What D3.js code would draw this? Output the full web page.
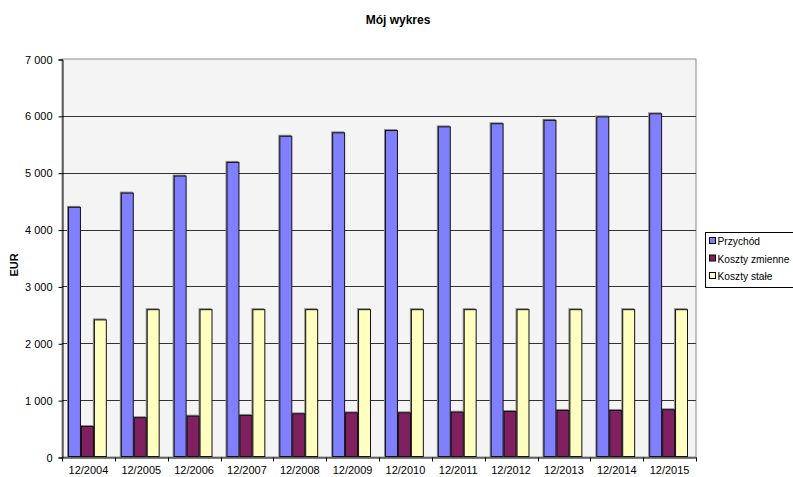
<!DOCTYPE html>
<html>
<head>
<meta charset="utf-8">
<script src="https://cdn.jsdelivr.net/npm/d3@7"></script>
<style>
  body { margin: 0; background: #fff; }
  svg { display: block; font-family: "Liberation Sans", Arial, sans-serif; }
</style>
</head>
<body>
<div class="chart"></div>
<script>
const categories = ["12/2004", "12/2005", "12/2006", "12/2007", "12/2008", "12/2009",
  "12/2010", "12/2011", "12/2012", "12/2013", "12/2014", "12/2015"];
const seriesNames = ["Przychód", "Koszty zmienne", "Koszty stałe"];
const przychod = [4400, 4650, 4950, 5190, 5650, 5710, 5750, 5815, 5870, 5930, 5990, 6045];
const kosztyZmienne = [545, 700, 727, 740, 768, 786, 786, 797, 809, 827, 827, 840];
const kosztyStale = [2420, 2600, 2600, 2600, 2600, 2600, 2600, 2600, 2600, 2600, 2600, 2600];
const yTicks = [0, 1000, 2000, 3000, 4000, 5000, 6000, 7000];
const colors = ["#8080ff", "#802060", "#ffffc0"];

const w = 793, h = 477;
const margin = {top: 59, bottom: 20, left: 62, right: 97};

const svg = d3.select(".chart").append("svg")
  .attr("width", w)
  .attr("height", h);

const x0 = d3.scaleBand()
  .domain(categories)
  .range([margin.left, w - margin.right])
  .paddingInner(0).paddingOuter(0);

const x1 = d3.scaleBand()
  .domain(seriesNames)
  .range([6, x0.bandwidth() - 8]);

const y = d3.scaleLinear()
  .domain([0, 7000])
  .range([h - margin.bottom, margin.top]);

// plot background
svg.append("rect")
  .attr("x", margin.left).attr("y", margin.top)
  .attr("width", w - margin.left - margin.right)
  .attr("height", h - margin.top - margin.bottom)
  .attr("fill", "#f4f4f4")
  .attr("stroke", "#8c8c8c");

// gridlines
svg.append("g")
  .selectAll("line")
  .data(yTicks.filter(d => d > 0 && d < 7000))
  .enter()
  .append("line")
  .attr("x1", margin.left).attr("x2", w - margin.right)
  .attr("y1", d => Math.round(y(d)) + 0.5).attr("y2", d => Math.round(y(d)) + 0.5)
  .attr("stroke", "#333");

const data = categories.map((c, i) => ({
  label: c,
  values: [przychod[i], kosztyZmienne[i], kosztyStale[i]]
}));

const groups = svg.append("g")
  .selectAll("g")
  .data(data)
  .enter()
  .append("g")
  .attr("transform", d => "translate(" + x0(d.label) + ",0)");

// shadow
groups.selectAll("rect.shadow")
  .data(d => d.values.map((v, i) => ({name: seriesNames[i], value: v, i: i})))
  .enter()
  .append("rect")
  .attr("class", "shadow")
  .attr("x", d => x1(d.name) - 1)
  .attr("y", d => y(d.value) - 1)
  .attr("width", x1.bandwidth())
  .attr("height", d => y(0) - y(d.value) + 1)
  .attr("fill", "#8a8a8a");

groups.selectAll("rect.bar")
  .data(d => d.values.map((v, i) => ({name: seriesNames[i], value: v, i: i})))
  .enter()
  .append("rect")
  .attr("class", "bar")
  .attr("x", d => x1(d.name) + 0.5)
  .attr("y", d => y(d.value) + 0.5)
  .attr("width", x1.bandwidth() - 1)
  .attr("height", d => y(0) - y(d.value) - 1)
  .attr("fill", d => colors[d.i])
  .attr("stroke", "#111")
  .attr("stroke-width", 1);

// y axis
const yAxis = svg.append("g")
  .attr("transform", "translate(" + (margin.left + 0.5) + ",0.5)")
  .call(d3.axisLeft(y).tickValues(yTicks).tickSize(4).tickPadding(6)
    .tickFormat(d => d3.format(",")(d).replace(",", " ")));
yAxis.select(".domain").attr("stroke", "#000");
yAxis.selectAll("line").attr("stroke", "#000");
yAxis.selectAll("text").attr("font-size", 11).attr("fill", "#000")
  .attr("font-family", "Liberation Sans, Arial, sans-serif");

// x axis
const xAxis = svg.append("g")
  .attr("transform", "translate(0," + (h - margin.bottom + 0.5) + ")")
  .call(d3.axisBottom(x0).tickSize(0).tickPadding(9));
xAxis.select(".domain").attr("stroke", "#000");
xAxis.selectAll("text").attr("font-size", 11).attr("fill", "#000")
  .attr("font-family", "Liberation Sans, Arial, sans-serif");
// category boundary ticks
xAxis.selectAll("line.sep")
  .data(d3.range(categories.length + 1))
  .enter()
  .append("line")
  .attr("class", "sep")
  .attr("x1", i => Math.round(margin.left + i * x0.step()) + 0.5)
  .attr("x2", i => Math.round(margin.left + i * x0.step()) + 0.5)
  .attr("y1", 0).attr("y2", 4)
  .attr("stroke", "#000");

// title
svg.append("text")
  .attr("x", 398).attr("y", 24)
  .attr("text-anchor", "middle")
  .attr("font-size", 12).attr("font-weight", "bold")
  .text("Mój wykres");

// y label
svg.append("text")
  .attr("transform", "translate(18," + 265 + ") rotate(-90)")
  .attr("text-anchor", "middle")
  .attr("font-size", 11).attr("font-weight", "bold")
  .text("EUR");

// legend
const legend = svg.append("g").attr("transform", "translate(705,232)");
legend.append("rect")
  .attr("x", 0.5).attr("y", 0.5)
  .attr("width", 100).attr("height", 55)
  .attr("fill", "#fff").attr("stroke", "#000");
const items = legend.selectAll("g.item")
  .data(seriesNames)
  .enter()
  .append("g")
  .attr("class", "item")
  .attr("transform", (d, i) => "translate(0," + (9 + i * 17.5) + ")");
items.append("rect")
  .attr("x", 4.5).attr("y", -3.5)
  .attr("width", 6).attr("height", 6)
  .attr("fill", (d, i) => colors[i])
  .attr("stroke", "#000");
items.append("text")
  .attr("x", 12.5).attr("y", 4)
  .attr("font-size", 10.2)
  .text(d => d);
</script>
</body>
</html>
